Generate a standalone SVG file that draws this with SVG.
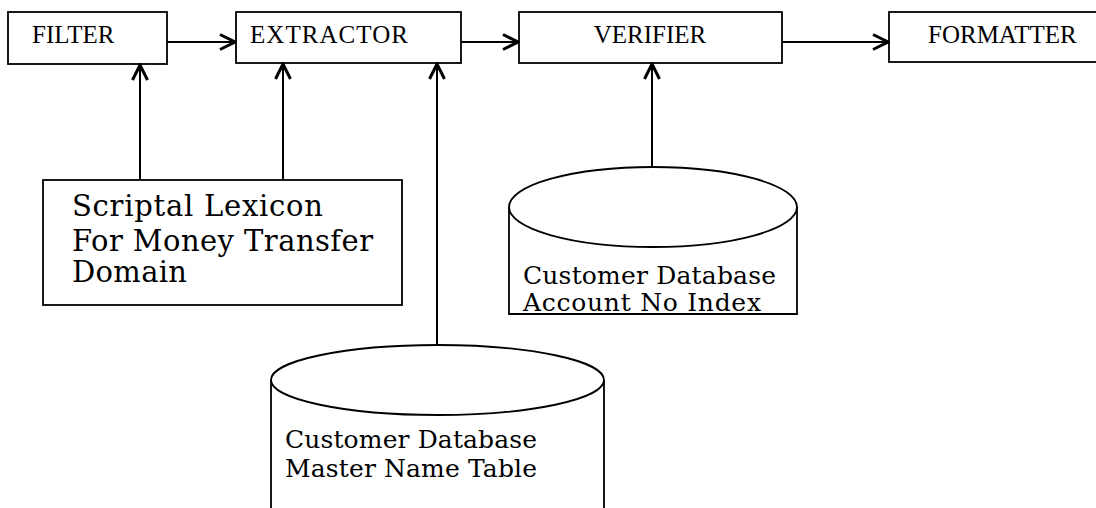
<svg xmlns="http://www.w3.org/2000/svg" width="1096" height="508" viewBox="0 0 1096 508">
<style>
.box{fill:#fff;stroke:#000;stroke-width:1.8}
.db{fill:#fff;stroke:#000;stroke-width:1.8}
.conn{fill:none;stroke:#000;stroke-width:2}
.title{font-family:"Liberation Serif","Times New Roman",serif;font-size:25px;fill:#000}
.big{font-family:"DejaVu Serif","Liberation Serif",serif;font-size:29px;fill:#000}
.small{font-family:"DejaVu Serif","Liberation Serif",serif;font-size:25px;fill:#000}
</style>
<defs>
<marker id="arr" viewBox="0 0 18 18" markerWidth="18" markerHeight="18" refX="16" refY="9" orient="auto" markerUnits="userSpaceOnUse">
<path d="M1,1.5 L16,9 L1,16.5" fill="none" stroke="#000" stroke-width="3" stroke-linejoin="miter"/>
</marker>
</defs>
<rect width="1096" height="508" fill="#fff"/>
<g id="filter">
<rect class="box" x="8" y="12" width="159" height="52"/>
<text class="title" x="32" y="43">FILTER</text>
</g>
<g id="extractor">
<rect class="box" x="236" y="12" width="225" height="51"/>
<text class="title" x="250" y="43" textLength="158">EXTRACTOR</text>
</g>
<g id="verifier">
<rect class="box" x="519" y="12" width="263" height="51"/>
<text class="title" x="650" y="43" text-anchor="middle">VERIFIER</text>
</g>
<g id="formatter">
<rect class="box" x="889" y="12" width="215" height="50"/>
<text class="title" x="928" y="43">FORMATTER</text>
</g>
<g id="lexicon">
<rect class="box" x="43" y="180" width="359" height="125"/>
<text class="big" x="72" y="216" textLength="251">Scriptal Lexicon</text>
<text class="big" x="72" y="251" textLength="301">For Money Transfer</text>
<text class="big" x="72" y="282" textLength="115">Domain</text>
</g>
<g id="account-db">
<path class="db" d="M509,207 L509,314 L797,314 L797,207"/>
<ellipse class="db" cx="653" cy="207" rx="144" ry="40"/>
<text class="small" x="523" y="284" textLength="253">Customer Database</text>
<text class="small" x="523" y="311" textLength="238">Account No Index</text>
</g>
<g id="master-db">
<path class="db" d="M271,380 L271,510 M604,380 L604,510"/>
<ellipse class="db" cx="437.5" cy="380" rx="166.5" ry="35"/>
<text class="small" x="285" y="448" textLength="252">Customer Database</text>
<text class="small" x="285" y="477" textLength="252">Master Name Table</text>
</g>
<g id="connectors">
<line class="conn" x1="167" y1="42" x2="235" y2="42" marker-end="url(#arr)"/>
<line class="conn" x1="461" y1="42" x2="518" y2="42" marker-end="url(#arr)"/>
<line class="conn" x1="782" y1="42" x2="888" y2="42" marker-end="url(#arr)"/>
<line class="conn" x1="140" y1="180" x2="140" y2="65" marker-end="url(#arr)"/>
<line class="conn" x1="283" y1="180" x2="283" y2="64" marker-end="url(#arr)"/>
<line class="conn" x1="437" y1="345" x2="437" y2="64" marker-end="url(#arr)"/>
<line class="conn" x1="652" y1="167" x2="652" y2="64" marker-end="url(#arr)"/>
</g>
</svg>
